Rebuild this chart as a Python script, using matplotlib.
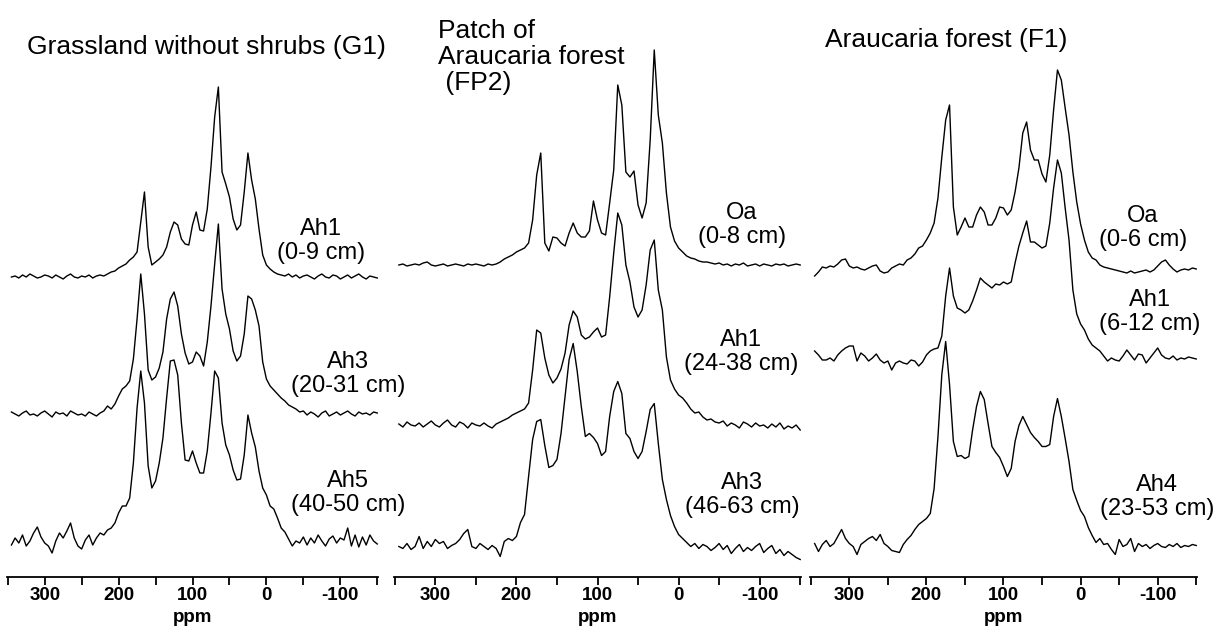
import numpy as np
import matplotlib
matplotlib.use("Agg")
import matplotlib.pyplot as plt

plt.rcParams['font.family'] = ['Liberation Sans', 'DejaVu Sans']

# ---------------- data (intensity above each baseline, sampled every 5 ppm from 345 to -150) ----------------
PPM_START, PPM_END = 345, -150

panel_titles = ["Grassland without shrubs (G1)", "Patch of\nAraucaria forest\n (FP2)", "Araucaria forest (F1)"]
sample_labels = [["Ah1\n(0-9 cm)", "Ah3\n(20-31 cm)", "Ah5\n(40-50 cm)"],
                 ["Oa\n(0-8 cm)", "Ah1\n(24-38 cm)", "Ah3\n(46-63 cm)"],
                 ["Oa\n(0-6 cm)", "Ah1\n(6-12 cm)", "Ah4\n(23-53 cm)"]]
tick_major = [300, 200, 100, 0, -100]
tick_minor = [350, 250, 150, 50, -50, -150]

g1_ah1 = [0, 1, -1, 2, 0, 3, 1, -1, 0, 2,
          1, -1, 2, 0, -2, 1, 3, 0, -1, 1,
          0, 2, -1, 1, 2, 1, 3, 5, 6, 9,
          11, 13, 17, 20, 25, 55, 85, 30, 12, 15,
          18, 22, 30, 45, 55, 52, 38, 33, 32, 52,
          65, 47, 46, 68, 110, 160, 190, 105, 93, 80,
          58, 47, 52, 85, 124, 97, 78, 48, 22, 12,
          8, 5, 3, 2, 1, 3, 0, 2, -1, 1,
          2, 0, -2, 1, 3, 0, -1, 2, 1, -2,
          0, 2, -1, 1, 3, 0, -2, 1, 0, -1]
g1_ah3 = [2, 0, -2, 1, 3, -1, 0, -2, 1, 3,
          0, -3, 2, 0, 1, -2, 3, 1, -1, 0,
          -2, 2, 0, -2, 1, 3, 8, 5, 10, 18,
          25, 28, 33, 55, 95, 140, 100, 44, 34, 37,
          46, 62, 95, 115, 122, 108, 80, 61, 50, 52,
          62, 58, 48, 72, 108, 150, 190, 125, 100, 85,
          63, 53, 58, 80, 118, 115, 104, 88, 52, 35,
          28, 24, 20, 16, 13, 9, 7, 5, 2, 3,
          -1, 2, 0, -3, 1, 3, -2, 0, 2, -1,
          1, 3, 0, -2, 2, 0, 1, -1, 2, 1]
g1_ah5 = [-2, 5, 0, 8, -3, 2, 10, 16, 6, 0,
          -3, -10, 2, 10, 5, 12, 20, 5, -3, -6,
          3, 8, -2, 5, 10, 8, 13, 15, 20, 30,
          37, 37, 45, 80, 135, 172, 140, 77, 55, 62,
          80, 105, 145, 182, 183, 168, 120, 83, 82, 92,
          80, 70, 70, 92, 130, 172, 165, 120, 98, 88,
          73, 63, 64, 88, 128, 110, 96, 72, 55, 48,
          37, 34, 25, 15, 11, 4, -3, 2, 0, 6,
          -2, 5, 0, 8, 2, -3, 4, 7, 0, 5,
          3, 15, -3, 8, -4, 6, -2, 8, 2, -1]

fp2_oa = [0, 1, -1, 0, 1, 0, 2, 3, 0, -1,
          0, 1, -1, 0, 1, 0, -1, 1, 0, 1,
          0, -1, 1, 0, 1, 3, 6, 8, 10, 13,
          15, 17, 22, 45, 90, 112, 22, 14, 28, 27,
          22, 19, 32, 42, 32, 28, 28, 34, 64, 45,
          32, 30, 62, 95, 180, 160, 93, 88, 94, 60,
          47, 62, 125, 215, 150, 122, 72, 38, 24, 17,
          13, 9, 7, 6, 4, 3, 3, 2, 1, 2,
          0, 1, -1, 1, 0, 2, -1, 0, 1, -1,
          1, 0, -1, 1, 0, 1, -1, 0, 1, 0]
fp2_ah1 = [1, -2, 3, 0, -1, 2, -2, 1, 4, 0,
           -2, 2, 5, 0, -2, 3, 1, -3, 2, 0,
           -1, 2, -1, -3, 1, 3, 5, 7, 10, 12,
           14, 16, 22, 55, 95, 92, 67, 50, 42, 47,
           56, 72, 100, 114, 108, 90, 86, 88, 93, 97,
           88, 90, 128, 172, 212, 200, 160, 143, 118, 108,
           115, 140, 175, 185, 135, 115, 68, 45, 36, 30,
           27, 22, 16, 12, 13, 8, 5, 6, 3, 2,
           4, -1, 2, 0, -3, 3, 1, -2, 2, -1,
           0, -3, 1, -2, 2, -4, -1, -3, 0, -5]
fp2_ah3 = [5, 3, 8, 2, 5, 15, 3, 10, 5, 12,
           8, 10, 3, 6, 8, 12, 18, 22, 5, 3,
           8, 5, 2, 6, 3, -5, 10, 13, 11, 15,
           29, 37, 75, 112, 130, 132, 106, 84, 86, 92,
           118, 155, 192, 208, 180, 145, 115, 118, 114, 108,
           96, 100, 135, 160, 170, 158, 118, 113, 100, 93,
           100, 120, 142, 148, 108, 72, 52, 36, 25, 17,
           13, 9, 5, 8, 3, 7, 5, 1, 4, 8,
           2, 6, -2, 3, 7, 0, 4, 1, 5, 8,
           -1, 3, 6, -2, 2, -4, 0, -3, -6, -8]

f1_oa = [-6, -2, 3, 2, 4, 3, 6, 10, 11, 4,
         2, 3, 1, 0, 2, 4, 5, -1, -3, -2,
         2, 4, 6, 5, 10, 12, 16, 22, 24, 30,
         37, 47, 72, 113, 150, 165, 63, 35, 43, 52,
         43, 43, 55, 63, 58, 45, 45, 52, 63, 62,
         55, 60, 78, 102, 137, 148, 120, 110, 110, 96,
         88, 115, 160, 200, 190, 162, 135, 98, 68, 46,
         30, 18, 12, 10, 5, 3, 2, 1, 0, -1,
         -2, -3, -1, -3, -2, -1, 0, -2, 0, 4,
         8, 10, 5, 1, -2, 0, 1, 0, 2, 1]
f1_ah1 = [7, 3, -2, -2, 0, -3, 3, 7, 10, 12,
          12, -3, 5, 2, -3, 0, 4, -2, -5, -3,
          -12, -5, -3, -5, -6, -2, -3, -8, -4, 3,
          7, 9, 10, 22, 62, 90, 62, 50, 48, 45,
          48, 57, 68, 80, 76, 73, 70, 74, 73, 76,
          74, 76, 95, 112, 125, 137, 116, 116, 113, 110,
          112, 135, 170, 198, 185, 150, 118, 68, 44, 34,
          28, 19, 13, 10, 7, 2, -3, 0, -2, -3,
          2, 8, 3, -2, 4, 3, -5, 0, 5, 10,
          3, 0, -1, 2, -2, 0, -1, 1, 0, -1]
f1_ah4 = [3, -5, 2, 6, 0, 3, 10, 17, 8, 3,
          0, -8, 2, 5, 8, 10, 6, 12, 3, 0,
          -4, -5, -6, 2, 7, 11, 17, 22, 25, 28,
          33, 58, 110, 172, 205, 162, 105, 90, 91, 88,
          90, 117, 140, 155, 147, 123, 100, 94, 89, 80,
          70, 78, 105, 121, 130, 122, 114, 109, 105, 100,
          100, 102, 130, 148, 130, 108, 85, 57, 46, 36,
          30, 19, 11, 4, 8, 2, 3, -3, -8, 7,
          0, 2, 8, -5, 3, 0, 2, -2, 1, 3,
          0, -1, 2, 0, 3, -1, 1, 0, 2, 1]

spectra = [[g1_ah1, g1_ah3, g1_ah5], [fp2_oa, fp2_ah1, fp2_ah3], [f1_oa, f1_ah1, f1_ah4]]

# ---------------- layout (pixels) ----------------
W, H = 1225, 635
AX_BOTTOM = 576.5
panel_x = [(7, 378), (394, 801), (810, 1197)]
baselines_px = [(277, 414, 543), (265, 425, 551.5), (270, 358, 546.5)]
title_pos = [(27, 47), (438, 57), (825, 40)]
label_pos = [[(321, 241), (348, 374), (348, 493)],
             [(742, 225), (741, 352), (742, 495)],
             [(1143, 228), (1150, 312), (1157, 497)]]

fig = plt.figure(figsize=(W / 100, H / 100), dpi=100)

def fx(x):
    return x / W

def fy(y):
    return 1 - y / H

for p in range(3):
    x0, x1 = panel_x[p]
    ax = fig.add_axes([fx(x0), fy(AX_BOTTOM), (x1 - x0) / W, AX_BOTTOM / H])
    ax.set_xlim(351, -151)
    ax.set_ylim(0, AX_BOTTOM)
    for s in range(3):
        vals = np.array(spectra[p][s], dtype=float)
        ppm = np.linspace(PPM_START, PPM_END, len(vals))
        off = AX_BOTTOM - baselines_px[p][s]
        ax.plot(ppm, vals + off, color='black', lw=1.0, clip_on=False)
    for sp in ['top', 'left', 'right']:
        ax.spines[sp].set_visible(False)
    ax.spines['bottom'].set_linewidth(1.3)
    ax.set_yticks([])
    ax.set_xticks(tick_major)
    ax.set_xticks(tick_minor, minor=True)
    ax.set_xticklabels([str(t) for t in tick_major], fontsize=13.5, fontweight='bold')
    ax.tick_params(axis='x', which='both', direction='out', length=6, width=1.3, pad=1.5)
    ax.set_xlabel('ppm', fontsize=13.5, fontweight='bold', labelpad=3.5)
    ax.patch.set_alpha(0)

    tx, ty = title_pos[p]
    fig.text(fx(tx), fy(ty), panel_titles[p], fontsize=19, ha='left', va='center',
             linespacing=1.08)
    for s in range(3):
        lx, ly = label_pos[p][s]
        fig.text(fx(lx), fy(ly), sample_labels[p][s], fontsize=17, ha='center', va='center',
                 multialignment='center', linespacing=1.1)

fig.savefig('out.png', dpi=100)
